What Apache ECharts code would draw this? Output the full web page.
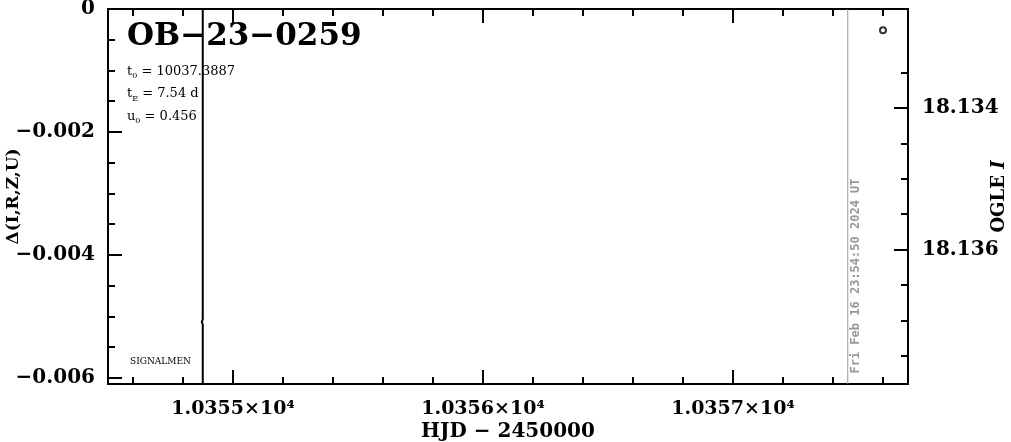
<!DOCTYPE html>
<html>
<head>
<meta charset="utf-8">
<script src="https://cdn.jsdelivr.net/npm/echarts@6/dist/echarts.min.js"></script>
<style>
html,body{margin:0;padding:0;background:#fff;}
#chart{width:1011px;height:442px;}
</style>
</head>
<body>
<div id="chart"></div>
<script>
// ---- data ----
const eventName = 'OB−23−0259';
const paramNames = ['t', 't', 'u'];
const paramSubs = ['0', 'E', '0'];
const paramValues = ['10037.3887', '7.54 d', '0.456'];
const timestamp = 'Fri Feb 16 23:54:50 2024 UT';
const signalmenLabel = 'SIGNALMEN';

const xRange = [10354.5, 10357.7];
const xMajorTicks = [10355, 10356, 10357];
const xMinorTicks = [10354.6, 10354.8, 10355.2, 10355.4, 10355.6, 10355.8,
                     10356.2, 10356.4, 10356.6, 10356.8, 10357.2, 10357.4, 10357.6];

const leftRange = [-0.0061, 0];
const leftMajorTicks = [0, -0.002, -0.004, -0.006];
const leftMinorTicks = [-0.0005, -0.001, -0.0015, -0.0025, -0.003, -0.0035,
                        -0.0045, -0.005, -0.0055];

const rightRange = [18.1326, 18.1379];
const rightMajorTicks = [18.134, 18.136];
const rightMinorTicks = [18.1335, 18.1345, 18.135, 18.1355, 18.1365, 18.137, 18.1375];

// model curve (Δ axis)
const modelX = [10354.879, 10354.879, 10354.875, 10354.879, 10354.879];
const modelY = [0, -0.00505, -0.00509, -0.00513, -0.0061];
// OGLE I photometry
const ogleX = [10357.6];
const ogleY = [18.1329];
// current time marker
const nowX = [10357.459, 10357.459];
const nowY = [0, -0.0061];

// ---- chart ----
const FONT = 'DejaVu Serif';
const chart = echarts.init(document.getElementById('chart'), null, {renderer: 'canvas'});

function pairs(xs, ys) { return xs.map((x, i) => [x, ys[i]]); }

const axisLineStyle = {show: true, onZero: false, lineStyle: {color: '#000', width: 2}};
function tickAxisX(pos, values, len, withLabels) {
  return {
    type: 'value', position: pos, min: xRange[0], max: xRange[1], gridIndex: 0,
    axisLine: axisLineStyle,
    axisTick: {show: true, inside: true, length: len, customValues: values,
               lineStyle: {color: '#000', width: 2}},
    axisLabel: withLabels ? {
      show: true, customValues: xMajorTicks, margin: 16,
      fontFamily: FONT, fontSize: 19, fontWeight: 'bold', color: '#000',
      formatter: v => (v / 10000).toFixed(4) + '×10⁴'
    } : {show: false},
    splitLine: {show: false},
    name: withLabels ? 'HJD − 2450000' : '',
    nameLocation: 'middle', nameGap: 38, nameMoveOverlap: false,
    nameTextStyle: {fontFamily: FONT, fontSize: 20, fontWeight: 'bold', color: '#000'}
  };
}

const option = {
  animation: false,
  backgroundColor: '#fff',
  grid: {left: 108, right: 103, top: 9, bottom: 58, containLabel: false, outerBoundsMode: 'none'},
  xAxis: [
    tickAxisX('bottom', xMinorTicks, 7, true),
    tickAxisX('bottom', xMajorTicks, 14, false),
    tickAxisX('top', xMinorTicks, 7, false),
    tickAxisX('top', xMajorTicks, 14, false)
  ],
  yAxis: [
    {
      type: 'value', position: 'left', min: leftRange[0], max: leftRange[1],
      axisLine: axisLineStyle,
      axisTick: {show: true, inside: true, length: 7, customValues: leftMinorTicks,
                 lineStyle: {color: '#000', width: 2}},
      axisLabel: {show: true, customValues: leftMajorTicks, margin: 13,
                  fontFamily: FONT, fontSize: 20, fontWeight: 'bold', color: '#000',
                  formatter: v => Math.abs(v) < 1e-9 ? '0' : '−' + Math.abs(v).toFixed(3)},
      splitLine: {show: false},
      name: 'Δ(I,R,Z,U)', nameLocation: 'middle', nameGap: 86, nameRotate: 90,
      nameMoveOverlap: false,
      nameTextStyle: {fontFamily: FONT, fontSize: 17, fontWeight: 'bold', color: '#000'}
    },
    {
      type: 'value', position: 'left', min: leftRange[0], max: leftRange[1],
      axisLine: {show: false, onZero: false},
      axisTick: {show: true, inside: true, length: 14, customValues: leftMajorTicks,
                 lineStyle: {color: '#000', width: 2}},
      axisLabel: {show: false}, splitLine: {show: false}
    },
    {
      type: 'value', position: 'right', inverse: true, min: rightRange[0], max: rightRange[1],
      axisLine: axisLineStyle,
      axisTick: {show: true, inside: true, length: 7, customValues: rightMinorTicks,
                 lineStyle: {color: '#000', width: 2}},
      axisLabel: {show: true, customValues: rightMajorTicks, margin: 14,
                  fontFamily: FONT, fontSize: 20, fontWeight: 'bold', color: '#000',
                  formatter: v => v.toFixed(3)},
      splitLine: {show: false},
      name: '{n|OGLE }{i|I}', nameLocation: 'middle', nameGap: 82, nameRotate: 90,
      nameMoveOverlap: false,
      nameTextStyle: {fontFamily: FONT, fontSize: 18, fontWeight: 'bold', color: '#000',
        rich: {n: {fontFamily: FONT, fontSize: 18, fontWeight: 'bold', color: '#000'},
               i: {fontFamily: FONT, fontSize: 18, fontWeight: 'bold', color: '#000', fontStyle: 'italic'}}}
    },
    {
      type: 'value', position: 'right', inverse: true, min: rightRange[0], max: rightRange[1],
      axisLine: {show: false, onZero: false},
      axisTick: {show: true, inside: true, length: 14, customValues: rightMajorTicks,
                 lineStyle: {color: '#000', width: 2}},
      axisLabel: {show: false}, splitLine: {show: false}
    }
  ],
  series: [
    {
      type: 'line', xAxisIndex: 0, yAxisIndex: 0, data: pairs(nowX, nowY),
      symbol: 'none', lineStyle: {color: '#999', width: 1}, z: 1
    },
    {
      type: 'line', xAxisIndex: 0, yAxisIndex: 0, data: pairs(modelX, modelY),
      symbol: 'none', lineStyle: {color: '#000', width: 2}, z: 2
    },
    {
      type: 'scatter', xAxisIndex: 0, yAxisIndex: 2, data: pairs(ogleX, ogleY),
      symbol: 'emptyCircle', symbolSize: 6,
      itemStyle: {color: '#000', borderColor: '#000', borderWidth: 2}, z: 5
    }
  ],
  graphic: [
    {
      type: 'text', left: 127, top: 21,
      style: {text: eventName, fontFamily: FONT, fontWeight: 'bold', fontSize: 31, fill: '#000'}
    },
    ...paramNames.map((n, i) => ({
      type: 'text', left: 127, top: 65 + i * 22.5,
      style: {
        text: '{m|' + n + '}{s|' + paramSubs[i] + '}{m| = ' + paramValues[i] + '}',
        rich: {
          m: {fontFamily: FONT, fontSize: 13, fill: '#000', lineHeight: 17},
          s: {fontFamily: FONT, fontSize: 8, fill: '#000', lineHeight: 9, verticalAlign: 'bottom'}
        }
      }
    })),
    {
      type: 'text', left: 130, top: 357,
      style: {text: signalmenLabel, fontFamily: FONT, fontSize: 9, fill: '#000'}
    },
    {
      type: 'text', x: 856, y: 276, rotation: Math.PI / 2,
      style: {text: timestamp, fontFamily: 'DejaVu Sans Mono', fontWeight: 'bold',
              fontSize: 12, fill: '#999', align: 'center', verticalAlign: 'middle'}
    }
  ]
};
chart.setOption(option);
</script>
</body>
</html>
